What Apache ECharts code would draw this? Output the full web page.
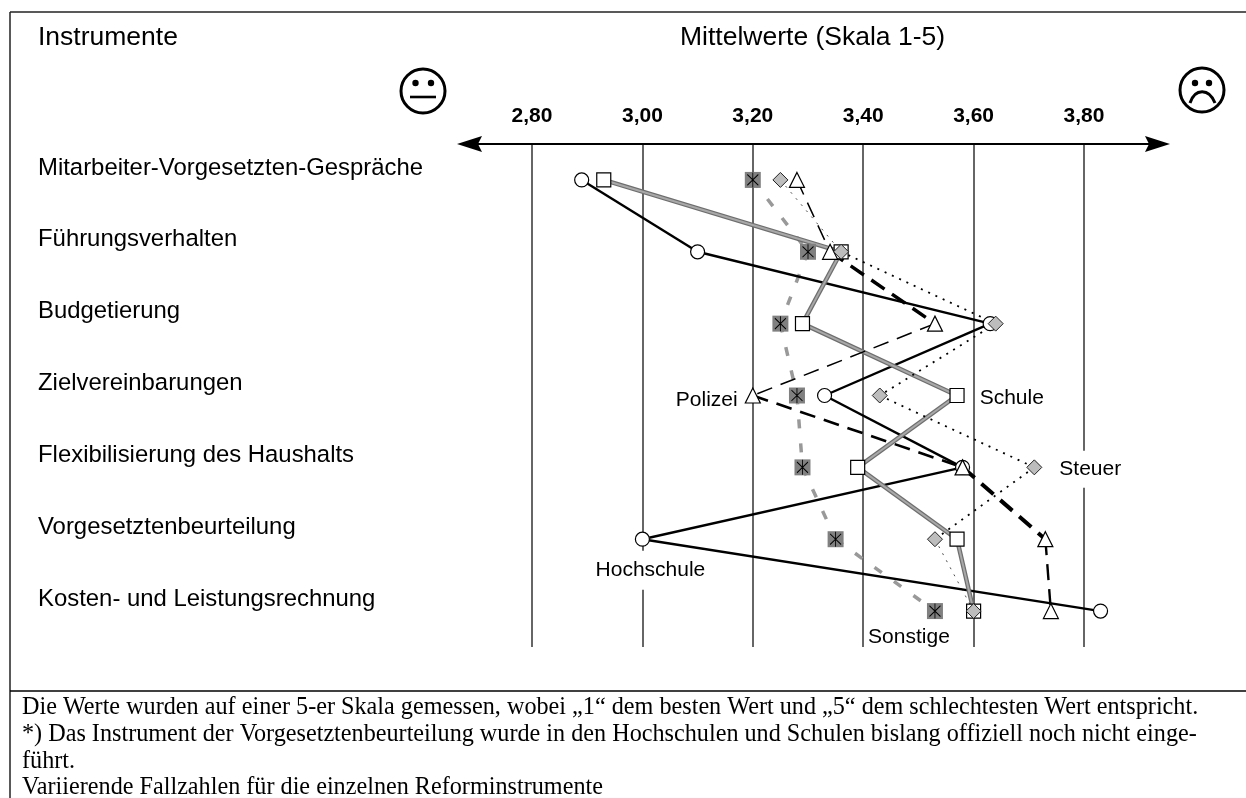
<!DOCTYPE html>
<html>
<head>
<meta charset="utf-8">
<title>Instrumente</title>
<style>
  html, body { margin: 0; padding: 0; background: #fff; }
  #chart { width: 1246px; height: 798px; }
</style>
<script src="https://cdn.jsdelivr.net/npm/echarts@6/dist/echarts.min.js"></script>
</head>
<body>
<div id="chart"></div>
<script>
const instrumente = [
  'Mitarbeiter-Vorgesetzten-Gespräche',
  'Führungsverhalten',
  'Budgetierung',
  'Zielvereinbarungen',
  'Flexibilisierung des Haushalts',
  'Vorgesetztenbeurteilung',
  'Kosten- und Leistungsrechnung',
];
const hochschule = [2.89, 3.10, 3.63, 3.33, 3.58, 3.00, 3.83];
const schule = [2.93, 3.36, 3.29, 3.57, 3.39, 3.57, 3.60];
const sonstige = [3.20, 3.30, 3.25, 3.28, 3.29, 3.35, 3.53];
const steuer = [3.25, 3.36, 3.64, 3.43, 3.71, 3.53, 3.60];
const polizei = [3.28, 3.34, 3.53, 3.20, 3.58, 3.73, 3.74];
const ticks = { min: 2.8, max: 3.8, interval: 0.2 };
const fussnoten = [
  'Die Werte wurden auf einer 5-er Skala gemessen, wobei „1“ dem besten Wert und „5“ dem schlechtesten Wert entspricht.',
  '*) Das Instrument der Vorgesetztenbeurteilung wurde in den Hochschulen und Schulen bislang offiziell noch nicht einge-',
  'führt.',
  'Variierende Fallzahlen für die einzelnen Reforminstrumente',
];

const sans = '"Liberation Sans", Arial, sans-serif';
const serif = '"Liberation Serif", "Times New Roman", serif';
const black = '#000';
const asterisk = 'path://M0 2L10 12M10 2L0 12M5 0L5 14';

const points = values => values.map((v, i) => [v, i]);

// one two-point line per segment, the original varies the weight along a line
function segments(name, values, style, widths) {
  const out = [];
  for (let i = 0; i < values.length - 1; i++) {
    out.push({
      name,
      type: 'line',
      clip: false,
      data: [[values[i], i], [values[i + 1], i + 1]],
      showSymbol: false,
      symbol: 'none',
      z: 3,
      lineStyle: { ...style, width: widths ? widths[i] : style.width },
    });
  }
  return out;
}

function markers(name, values, symbol, size, itemStyle, z, label) {
  return {
    name,
    type: 'scatter',
    clip: false,
    symbol,
    symbolSize: size,
    itemStyle: { opacity: 1, ...itemStyle },
    z,
    data: points(values).map((p, i) => (label && label.index === i
      ? {
        value: p,
        label: {
          show: true,
          formatter: name,
          color: black,
          fontFamily: sans,
          fontSize: 21,
          backgroundColor: '#fff',
          ...label.style,
        },
      }
      : { value: p })),
  };
}

const outline = { color: '#fff', borderColor: black, borderWidth: 1.2 };

const series = [
  ...segments('Sonstige', sonstige, { color: '#999', type: [9, 15], width: 3.5, cap: 'butt' }),
  ...segments('Hochschule', hochschule, { color: black, type: 'solid', width: 2.4 }),
  ...segments('Schule', schule, { color: '#6e6e6e', type: 'solid', width: 4.5 }),
  ...segments('Schule', schule, { color: '#a8a8a8', type: 'solid', width: 2 }),
  ...segments('Polizei', polizei, { color: black, type: [16, 9] }, [1.5, 3.5, 1.5, 2.6, 4, 2.4]),
  ...segments('Steuer', steuer, { color: black, type: [2, 6] }, [0.7, 1.8, 1.8, 1.8, 1.8, 0.7]),
  markers('Hochschule', hochschule, 'circle', 14, outline, 5, {
    index: 5,
    style: { position: 'bottom', distance: 4, offset: [8, 0], padding: [9, 0] },
  }),
  markers('Schule', schule, 'rect', 14, outline, 6, {
    index: 3,
    style: { position: 'right', distance: 15, offset: [0, 3] },
  }),
  markers('Polizei', polizei, 'triangle', 15, outline, 7, {
    index: 3,
    style: { position: 'left', distance: 7, offset: [0, 5] },
  }),
  markers('Sonstige', sonstige, 'rect', 16, { color: '#808080' }, 5, {
    index: 6,
    style: { position: 'bottom', distance: 8, offset: [-26, 0] },
  }),
  markers('Sonstige-Stern', sonstige, asterisk, [11, 15], { color: 'none', borderColor: black, borderWidth: 1 }, 6),
  markers('Steuer', steuer, 'diamond', 15, { color: '#bdbdbd', borderColor: '#222', borderWidth: 1 }, 8, {
    index: 4,
    style: { position: 'right', distance: 17, offset: [0, 2], padding: [8, 0] },
  }),
];

function rule(x1, y1, x2, y2, width, color) {
  return { type: 'line', z: 10, silent: true, shape: { x1, y1, x2, y2 }, style: { stroke: color || black, lineWidth: width } };
}
function ring(cx, cy, r) {
  return { type: 'circle', z: 10, silent: true, shape: { cx, cy, r }, style: { fill: null, stroke: black, lineWidth: 3 } };
}
function dot(cx, cy) {
  return { type: 'circle', z: 10, silent: true, shape: { cx, cy, r: 3.2 }, style: { fill: black } };
}
function head(x, y, points) {
  return { type: 'polygon', z: 10, silent: true, shape: { points: points.map(p => [x + p[0], y + p[1]]) }, style: { fill: black } };
}
function label(text, x, y, font) {
  return { type: 'text', z: 10, silent: true, x, y, style: { text, fill: black, font, verticalAlign: 'middle', align: 'left' } };
}

const graphics = [
  // frame, no right edge in the original
  rule(10, 12, 1246, 12, 1.5, '#222'),
  rule(10, 12, 10, 798, 1.5, '#222'),
  rule(10, 691, 1246, 691, 1.5),
  // double arrow axis
  rule(470, 144, 1155, 144, 2),
  head(457, 144, [[0, 0], [25, -8], [21, 0], [25, 8]]),
  head(1170, 144, [[0, 0], [-25, -8], [-21, 0], [-25, 8]]),
  // faces
  ring(423, 91, 22),
  dot(415.5, 83),
  dot(431, 83),
  rule(410, 97, 436, 97, 2.6),
  ring(1202, 90, 22),
  dot(1195, 83),
  dot(1209, 83),
  {
    type: 'bezierCurve',
    z: 10,
    silent: true,
    shape: { x1: 1190, y1: 103, cpx1: 1195, cpy1: 88, cpx2: 1209, cpy2: 88, x2: 1215, y2: 103 },
    style: { fill: null, stroke: black, lineWidth: 3 },
  },
  label('Instrumente', 38, 38, `26.5px ${sans}`),
  label('Mittelwerte (Skala 1-5)', 680, 38, `26.5px ${sans}`),
  ...fussnoten.map((t, i) => label(t, 22, 708 + i * 26.7, `24.2px ${serif}`)),
];

const chart = echarts.init(document.getElementById('chart'), null, { renderer: 'canvas' });
chart.setOption({
  animation: false,
  backgroundColor: '#fff',
  graphic: graphics,
  grid: { left: 532, top: 144, width: 552, height: 503, containLabel: false },
  xAxis: {
    type: 'value',
    position: 'top',
    min: ticks.min,
    max: ticks.max,
    interval: ticks.interval,
    axisLine: { show: false },
    axisTick: { show: false },
    axisLabel: {
      margin: 17,
      color: black,
      fontFamily: sans,
      fontSize: 21,
      fontWeight: 'bold',
      formatter: v => v.toFixed(2).replace('.', ','),
    },
    splitLine: { show: true, lineStyle: { color: '#333', width: 1.5 } },
  },
  yAxis: {
    type: 'category',
    inverse: true,
    data: instrumente,
    axisLine: { show: false },
    axisTick: { show: false },
    splitLine: { show: false },
    axisLabel: {
      align: 'left',
      verticalAlign: 'bottom',
      margin: 494,
      color: black,
      fontFamily: sans,
      fontSize: 23.9,
      interval: 0,
    },
  },
  series,
});
</script>
</body>
</html>
